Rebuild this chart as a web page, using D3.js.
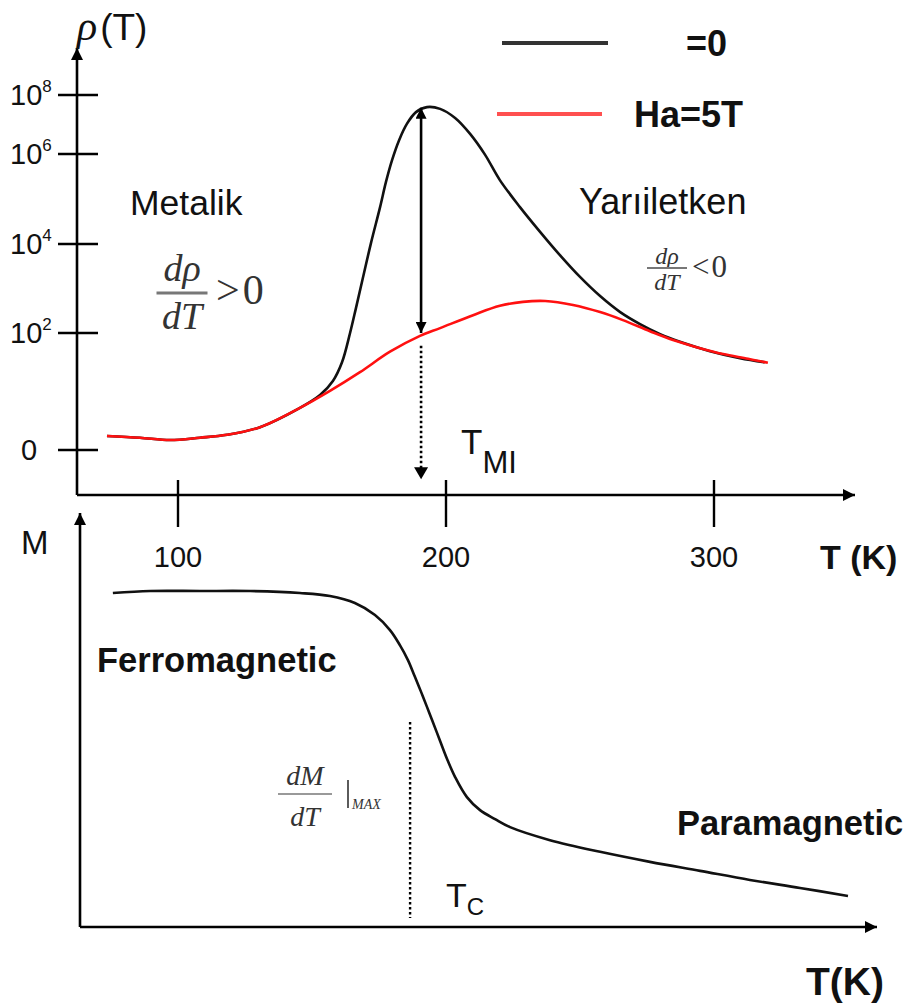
<!DOCTYPE html>
<html>
<head>
<meta charset="utf-8">
<script src="https://cdn.jsdelivr.net/npm/d3@7"></script>
<style>
  html, body { margin: 0; padding: 0; background: #fff; }
  svg { display: block; }
</style>
</head>
<body>
<svg id="chart" width="912" height="1006"></svg>
<script>
// ---- data ----
// Temperature tick labels (K)
const tempTicks = [100, 200, 300];
// Resistivity tick levels as decades (0 means the bottom "0" mark)
const rhoTickLevels = [0, 2, 4, 6, 8];

// Zero-field resistivity, log10 decade level vs T (K)
const rhoZeroT   = [73.5, 85.8, 97.0, 108.2, 118.3, 130.6, 145.5, 153.0, 157.8, 161.2, 164.2, 166.4, 169.0, 172.0, 175.4, 177.6, 179.9, 182.5, 185.4, 188.8, 192.9, 197.8, 203.4, 209.0, 214.6, 220.1, 227.6, 235.1, 242.5, 250.0, 257.5, 265.0, 272.4, 279.9, 287.3, 298.5, 309.7, 319.0];
const rhoZeroLog = [0.24, 0.21, 0.17, 0.21, 0.26, 0.39, 0.72, 0.94, 1.18, 1.50, 2.00, 2.56, 3.24, 4.02, 4.82, 5.38, 5.87, 6.47, 7.02, 7.42, 7.59, 7.53, 7.22, 6.68, 5.98, 5.42, 4.82, 4.27, 3.75, 3.26, 2.83, 2.47, 2.20, 1.98, 1.85, 1.69, 1.57, 1.50];

// Resistivity under Ha = 5 T
const rhoFieldT   = [73.5, 85.8, 97.0, 108.2, 118.3, 130.6, 145.5, 156.7, 167.9, 179.1, 190.3, 197.8, 210.1, 220.1, 228.7, 237.0, 247.4, 257.5, 266.0, 276.1, 284.7, 294.8, 303.4, 312.7, 320.1];
const rhoFieldLog = [0.24, 0.21, 0.17, 0.21, 0.26, 0.39, 0.72, 1.01, 1.33, 1.68, 1.95, 2.11, 2.40, 2.61, 2.70, 2.72, 2.63, 2.47, 2.29, 2.04, 1.88, 1.74, 1.64, 1.56, 1.49];

// Magnetization (normalised) vs T (K)
const magT = [75.7, 89.6, 108.2, 126.9, 145.5, 156.7, 166.0, 173.5, 179.1, 182.8, 185.8, 188.4, 190.7, 192.9, 194.8, 197.8, 200.4, 203.4, 207.8, 212.7, 218.3, 223.9, 238.8, 257.5, 276.1, 294.8, 313.4, 332.1, 350.0];
const magM = [0.994, 1.0, 1.0, 1.0, 0.994, 0.985, 0.964, 0.928, 0.883, 0.838, 0.793, 0.743, 0.698, 0.653, 0.614, 0.551, 0.497, 0.443, 0.383, 0.344, 0.317, 0.293, 0.254, 0.219, 0.189, 0.162, 0.135, 0.111, 0.087];

// Metal-insulator transition and the resistivity gap marked there
const tMI = 190.7;
const gapLevels = [7.57, 2.0];      // top (Ha = 0 peak) and bottom (Ha = 5 T)
const tMIDrop = [1.78, -0.5];       // dotted drop toward the T axis
const tC = 186.6;                   // Curie temperature marker

// Legend entries
const legendLabels = ["=0", "Ha=5T"];
const seriesColors = ["#111", "#ff1010"];

// ---- drawing ----
const svg = d3.select("#chart");
svg.append("rect").attr("width", 912).attr("height", 1006).attr("fill", "#fff");

const sans = "'Liberation Sans', Arial, sans-serif";
const serif = "'Liberation Serif', 'Times New Roman', serif";

const x = d3.scaleLinear().domain([100, 300]).range([178, 714]);
// schematic resistivity axis: decades are not evenly spaced
const yR = d3.scaleLinear().domain(rhoTickLevels).range([450, 333, 244, 154, 95]);
const yM = d3.scaleLinear().domain([0, 1]).range([925, 591]);

const defs = svg.append("defs");
function marker(id, size) {
  defs.append("marker")
    .attr("id", id)
    .attr("viewBox", "0 0 10 10")
    .attr("refX", 10).attr("refY", 5)
    .attr("markerWidth", size[0]).attr("markerHeight", size[1])
    .attr("markerUnits", "userSpaceOnUse")
    .attr("orient", "auto-start-reverse")
    .append("path").attr("d", "M0,0 L10,5 L0,10 Z").attr("fill", "#000");
}
marker("axisHead", [15, 12]);
marker("gapHead", [15, 11]);

// ---- upper panel axes ----
const upper = svg.append("g");
const axisW = 2.6;
upper.append("line").attr("x1", 77).attr("x2", 77).attr("y1", 495).attr("y2", 48)
  .attr("stroke", "#000").attr("stroke-width", axisW).attr("marker-end", "url(#axisHead)");
upper.append("line").attr("x1", 77).attr("x2", 855).attr("y1", 495).attr("y2", 495)
  .attr("stroke", "#000").attr("stroke-width", axisW).attr("marker-end", "url(#axisHead)");

// y ticks
upper.selectAll(".ytick").data(rhoTickLevels).join("line")
  .attr("x1", 58).attr("x2", 98)
  .attr("y1", d => yR(d)).attr("y2", d => yR(d))
  .attr("stroke", "#000").attr("stroke-width", 2.4);
const yLab = upper.selectAll(".ylab").data(rhoTickLevels).join("text")
  .attr("font-family", sans).attr("font-size", 29).attr("fill", "#111");
yLab.each(function(d) {
  const t = d3.select(this);
  if (d === 0) {
    t.attr("x", 29).attr("y", yR(d) + 10).attr("text-anchor", "middle").text("0");
  } else {
    t.attr("x", 10).attr("y", yR(d) + 10).text("10");
    t.append("tspan").attr("dy", -13).attr("font-size", 17).text(d);
  }
});

// x ticks
upper.selectAll(".xtick").data(tempTicks).join("line")
  .attr("x1", d => x(d)).attr("x2", d => x(d))
  .attr("y1", 480).attr("y2", 527)
  .attr("stroke", "#000").attr("stroke-width", 2.4);
upper.selectAll(".xlab").data(tempTicks).join("text")
  .attr("x", d => x(d)).attr("y", 567)
  .attr("text-anchor", "middle")
  .attr("font-family", sans).attr("font-size", 29).attr("fill", "#111")
  .text(d => d);

// axis titles
const rhoTitle = upper.append("text").attr("x", 77).attr("y", 40)
  .attr("font-family", sans).attr("font-size", 37).attr("fill", "#111");
rhoTitle.append("tspan").attr("font-family", serif).attr("font-style", "italic").attr("font-size", 42).text("ρ");
rhoTitle.append("tspan").attr("dx", 3).text("(T)");
upper.append("text").attr("x", 820).attr("y", 569)
  .attr("font-family", sans).attr("font-weight", "bold").attr("font-size", 34).attr("fill", "#111")
  .text("T (K)");

// curves
const line = d3.line().curve(d3.curveCatmullRom.alpha(0.5));
const zeroPts = rhoZeroT.map((t, i) => [x(t), yR(rhoZeroLog[i])]);
const fieldPts = rhoFieldT.map((t, i) => [x(t), yR(rhoFieldLog[i])]);
upper.append("path").attr("d", line(zeroPts)).attr("fill", "none")
  .attr("stroke", seriesColors[0]).attr("stroke-width", 2.6);
upper.append("path").attr("d", line(fieldPts)).attr("fill", "none")
  .attr("stroke", seriesColors[1]).attr("stroke-width", 2.6);

// gap arrow at T_MI
upper.append("line")
  .attr("x1", x(tMI)).attr("x2", x(tMI))
  .attr("y1", yR(gapLevels[0])).attr("y2", yR(gapLevels[1]))
  .attr("stroke", "#000").attr("stroke-width", 2.6)
  .attr("marker-start", "url(#gapHead)").attr("marker-end", "url(#gapHead)");
upper.append("line")
  .attr("x1", x(tMI)).attr("x2", x(tMI))
  .attr("y1", yR(tMIDrop[0])).attr("y2", yR(tMIDrop[1]) - 10)
  .attr("stroke", "#000").attr("stroke-width", 2.6).attr("stroke-dasharray", "2.5,2.5");
upper.append("path")
  .attr("d", `M${x(tMI) - 7},${yR(tMIDrop[1]) - 12} L${x(tMI) + 7},${yR(tMIDrop[1]) - 12} L${x(tMI)},${yR(tMIDrop[1])} Z`)
  .attr("fill", "#000");

// T_MI label
const tmiLab = upper.append("text").attr("x", 461).attr("y", 454)
  .attr("font-family", sans).attr("font-size", 35).attr("fill", "#111").text("T");
tmiLab.append("tspan").attr("dy", 19).attr("font-size", 31).text("MI");

// legend
const legend = upper.append("g");
const legendRows = [
  { x1: 502, x2: 608, y: 43, tx: 686, ty: 56, w: 4 },
  { x1: 497, x2: 602, y: 114, tx: 634, ty: 127, w: 4 }
];
legendRows.forEach((r, i) => {
  legend.append("line").attr("x1", r.x1).attr("x2", r.x2).attr("y1", r.y).attr("y2", r.y)
    .attr("stroke", i === 0 ? "#333" : "#ff5050").attr("stroke-width", r.w);
  legend.append("text").attr("x", r.tx).attr("y", r.ty)
    .attr("font-family", sans).attr("font-weight", "bold").attr("font-size", 36).attr("fill", "#111")
    .text(legendLabels[i]);
});

// region labels
upper.append("text").attr("x", 130).attr("y", 215)
  .attr("font-family", sans).attr("font-size", 35.5).attr("fill", "#111").text("Metalik");
upper.append("text").attr("x", 579).attr("y", 214)
  .attr("font-family", sans).attr("font-size", 36).attr("fill", "#111").text("Yarıiletken");

// derivative fractions
function fraction(g, cx, numY, barY, denY, width, fs, num, den, rel, relX, relY, relFs, barW, gap) {
  g.append("text").attr("x", cx).attr("y", numY).attr("text-anchor", "middle")
    .attr("font-family", serif).attr("font-style", "italic").attr("font-size", fs)
    .attr("fill", "#333").text(num);
  g.append("line").attr("x1", cx - width / 2).attr("x2", cx + width / 2)
    .attr("y1", barY).attr("y2", barY).attr("stroke", "#777").attr("stroke-width", barW);
  g.append("text").attr("x", cx).attr("y", denY).attr("text-anchor", "middle")
    .attr("font-family", serif).attr("font-style", "italic").attr("font-size", fs)
    .attr("fill", "#333").text(den);
  if (rel) {
    const r = g.append("text").attr("x", relX).attr("y", relY)
      .attr("font-family", serif).attr("font-size", relFs).attr("fill", "#333").text(rel[0]);
    r.append("tspan").attr("dx", gap).text(rel[1]);
  }
}
fraction(upper, 182, 281, 293, 329, 51, 38, "dρ", "dT", [">", "0"], 216, 304, 42, 3, 3);
fraction(upper, 667, 264, 268, 290, 40, 24, "dρ", "dT", ["<", "0"], 692, 277, 31, 2, 2);

// ---- lower panel ----
const lower = svg.append("g");
lower.append("line").attr("x1", 80).attr("x2", 80).attr("y1", 927).attr("y2", 513)
  .attr("stroke", "#000").attr("stroke-width", axisW).attr("marker-end", "url(#axisHead)");
lower.append("line").attr("x1", 80).attr("x2", 877).attr("y1", 927).attr("y2", 927)
  .attr("stroke", "#000").attr("stroke-width", axisW).attr("marker-end", "url(#axisHead)");
lower.append("text").attr("x", 21).attr("y", 554)
  .attr("font-family", sans).attr("font-size", 33).attr("fill", "#111").text("M");
lower.append("text").attr("x", 806).attr("y", 995)
  .attr("font-family", sans).attr("font-weight", "bold").attr("font-size", 39).attr("fill", "#111").text("T(K)");

const magPts = magT.map((t, i) => [x(t), yM(magM[i])]);
lower.append("path").attr("d", line(magPts)).attr("fill", "none")
  .attr("stroke", "#111").attr("stroke-width", 2.6);

// Curie temperature marker
lower.append("line").attr("x1", x(tC)).attr("x2", x(tC)).attr("y1", 722).attr("y2", 918)
  .attr("stroke", "#000").attr("stroke-width", 2.4).attr("stroke-dasharray", "2.5,2.5");
const tcLab = lower.append("text").attr("x", 446).attr("y", 907)
  .attr("font-family", sans).attr("font-size", 34).attr("fill", "#111").text("T");
tcLab.append("tspan").attr("dy", 8).attr("font-size", 24).text("C");

lower.append("text").attr("x", 97).attr("y", 672)
  .attr("font-family", sans).attr("font-weight", "bold").attr("font-size", 34.5).attr("fill", "#111").text("Ferromagnetic");
lower.append("text").attr("x", 677).attr("y", 835)
  .attr("font-family", sans).attr("font-weight", "bold").attr("font-size", 34.5).attr("fill", "#111").text("Paramagnetic");

fraction(lower, 305, 785, 794, 826, 54, 28, "dM", "dT", null, 0, 0, 0, 1.6, 0);
lower.append("line").attr("x1", 348).attr("x2", 348).attr("y1", 780).attr("y2", 808)
  .attr("stroke", "#333").attr("stroke-width", 1.6);
lower.append("text").attr("x", 352).attr("y", 809)
  .attr("font-family", serif).attr("font-style", "italic").attr("font-size", 14)
  .attr("fill", "#333").text("MAX");
</script>
</body>
</html>
